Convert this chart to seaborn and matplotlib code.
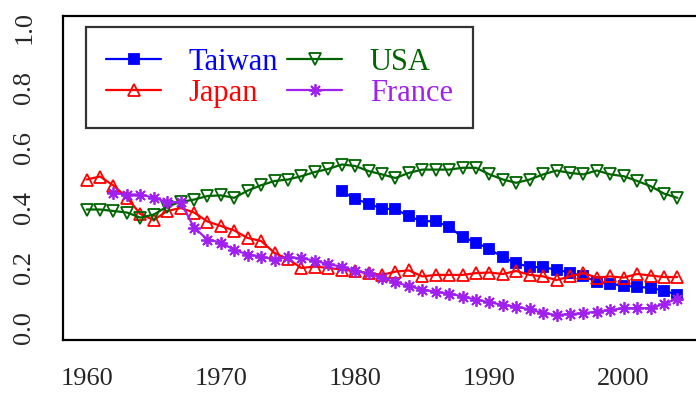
import numpy as np
import pandas as pd
import matplotlib
matplotlib.use('Agg')
import matplotlib.pyplot as plt
import seaborn as sns

# serie per paese
years = list(range(1960, 2005))

japan = [0.495, 0.505, 0.475, 0.435, 0.380, 0.360, 0.390, 0.400, 0.385, 0.355,
         0.340, 0.325, 0.300, 0.290, 0.250, 0.230, 0.200, 0.205, 0.200, 0.195,
         0.190, 0.183, 0.177, 0.188, 0.192, 0.172, 0.177, 0.177, 0.177, 0.183,
         0.185, 0.180, 0.190, 0.177, 0.172, 0.160, 0.172, 0.183, 0.168, 0.172,
         0.168, 0.180, 0.175, 0.170, 0.170]

usa = [0.395, 0.395, 0.390, 0.385, 0.368, 0.378, 0.405, 0.420, 0.428, 0.440,
       0.442, 0.434, 0.458, 0.476, 0.490, 0.495, 0.506, 0.520, 0.530, 0.545,
       0.540, 0.523, 0.512, 0.500, 0.517, 0.528, 0.528, 0.528, 0.534, 0.534,
       0.512, 0.495, 0.484, 0.495, 0.512, 0.525, 0.517, 0.512, 0.525, 0.512,
       0.506, 0.490, 0.473, 0.448, 0.434]

france_years = list(range(1962, 2005))
france = [0.450, 0.445, 0.445, 0.434, 0.420, 0.420, 0.335, 0.295, 0.285, 0.260,
          0.245, 0.238, 0.228, 0.236, 0.232, 0.225, 0.212, 0.205, 0.190, 0.182,
          0.168, 0.152, 0.140, 0.128, 0.121, 0.115, 0.105, 0.094, 0.086, 0.077,
          0.071, 0.062, 0.050, 0.043, 0.047, 0.049, 0.055, 0.060, 0.066, 0.066,
          0.066, 0.080, 0.098]

taiwan_years = list(range(1979, 2005))
taiwan = [0.456, 0.430, 0.415, 0.397, 0.397, 0.372, 0.356, 0.356, 0.337, 0.303,
          0.285, 0.263, 0.236, 0.216, 0.203, 0.203, 0.194, 0.185, 0.172, 0.155,
          0.148, 0.140, 0.138, 0.133, 0.125, 0.110]

xticks = [1960, 1970, 1980, 1990, 2000]
yticks = [0.0, 0.2, 0.4, 0.6, 0.8, 1.0]

sns.set_style('white')
plt.rcParams['font.family'] = ['Liberation Serif', 'DejaVu Serif']

fig = plt.figure(figsize=(6.96, 3.96), dpi=100)
# il riquadro esce a destra come nell'originale
ax = fig.add_axes([63/696, 56/396, 638/696, 324/396])

series = [
    ('Taiwan', taiwan_years, taiwan, 'blue', 's', 'blue', 7.5),
    ('Japan', years, japan, 'red', '^', 'none', 9),
    ('USA', years, usa, 'darkgreen', 'v', 'none', 9),
    ('France', france_years, france, '#A020F0', (8, 2, 0), 'none', 9),
]

for name, xs, ys, col, mk, fc, ms in series:
    df = pd.DataFrame({'year': xs, 'value': ys})
    sns.lineplot(data=df, x='year', y='value', ax=ax, color=col, lw=1.6,
                 marker=mk, markersize=ms, markerfacecolor=fc,
                 markeredgecolor=col, markeredgewidth=1.3, label=name)

ax.set_xlim(1958.24, 2005.76)
ax.set_ylim(-0.04, 1.04)
ax.set_xticks(xticks)
ax.set_xticklabels([str(t) for t in xticks], fontsize=19)
ax.set_yticks(yticks)
ax.set_yticklabels(['%.1f' % t for t in yticks], fontsize=19, rotation=90, va='center')
ax.tick_params(axis='both', direction='out', length=8, width=1.4, color='black', pad=12)
ax.set_xlabel('')
ax.set_ylabel('')
for s in ax.spines.values():
    s.set_color('black')
    s.set_linewidth(1.6)

leg = ax.legend(loc='upper left', bbox_to_anchor=(0.036, 0.965), ncol=2,
                fontsize=22, handlelength=1.8, handletextpad=0.9,
                columnspacing=0.3, labelspacing=0.08, borderpad=0.66,
                frameon=True, fancybox=False, borderaxespad=0)
leg.get_frame().set_edgecolor('black')
leg.get_frame().set_linewidth(1.6)
for txt, (name, xs, ys, col, mk, fc, ms) in zip(leg.get_texts(), series):
    txt.set_color(col)

fig.savefig('out.png', dpi=100)
